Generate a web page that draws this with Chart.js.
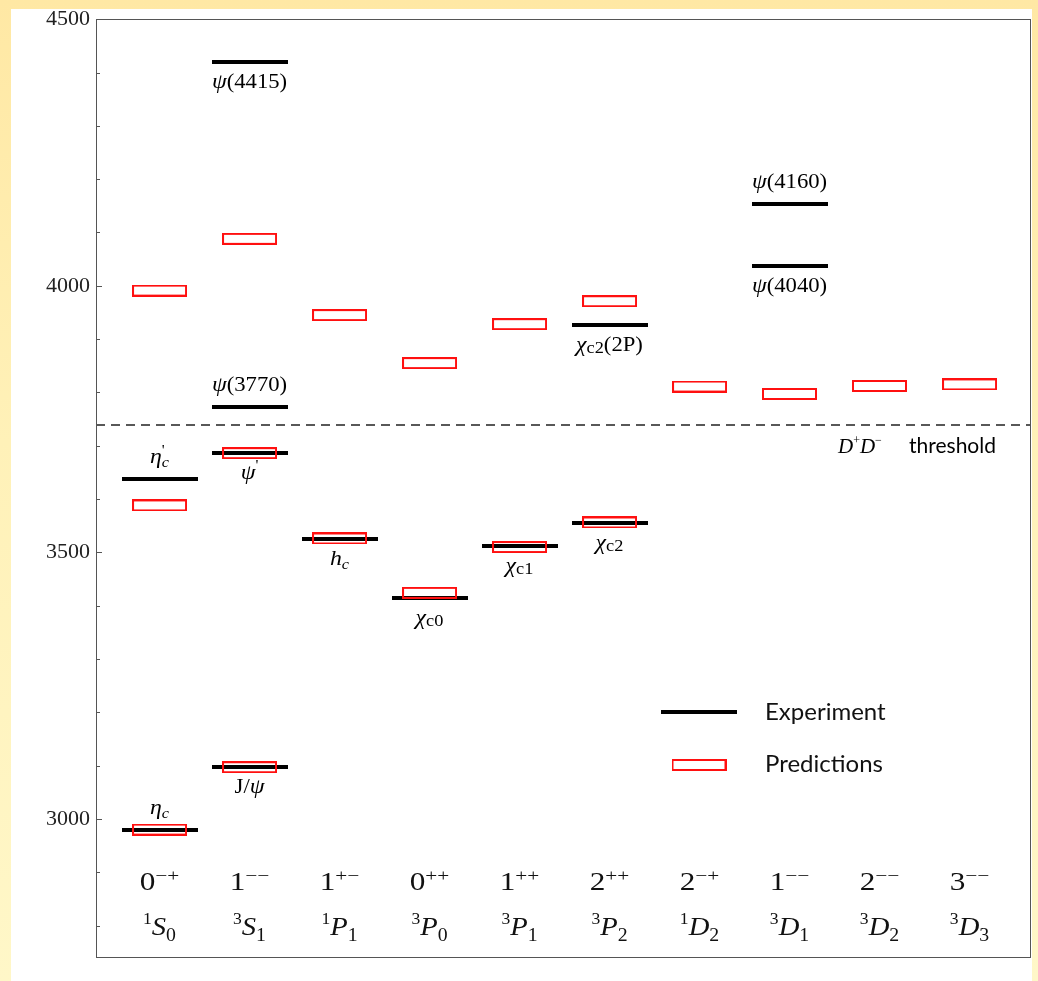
<!DOCTYPE html>
<html><head><meta charset="utf-8">
<script src="https://cdn.jsdelivr.net/npm/chart.js@4/dist/chart.umd.min.js"></script>
<style>
html,body{margin:0;padding:0;}
body{width:1038px;height:981px;background:linear-gradient(180deg,#FFE8A4 0%,#FFF1B8 45%,#FFF7C8 100%);position:relative;overflow:hidden;}
#panel{position:absolute;left:11px;top:9px;width:1021px;height:972px;background:#fff;}
#wrap{position:absolute;left:0;top:0;width:1038px;height:981px;}
</style></head><body>
<div id="panel"></div>
<div id="wrap"><canvas id="c" width="1038" height="981"></canvas></div>
<script>
// ---- data ----
const jpcLabels = [['0','−+'],['1','−−'],['1','+−'],['0','++'],['1','++'],['2','++'],['2','−+'],['1','−−'],['2','−−'],['3','−−']];
const termLabels = [['1','S','0'],['3','S','1'],['1','P','1'],['3','P','0'],['3','P','1'],['3','P','2'],['1','D','2'],['3','D','1'],['3','D','2'],['3','D','3']];
const expCategory = [0,0,1,1,1,1,2,3,4,5,5,7,7];
const expMass = [2980,3638,3097,3686,3773,4420,3525,3414,3511,3555,3926,4038,4154];
const expNames = ['eta_c',"eta_c'",'J/psi',"psi'",'psi(3770)','psi(4415)','h_c','chi_c0','chi_c1','chi_c2','chi_c2(2P)','psi(4040)','psi(4160)'];
const expLabelSide = [-1,-1,1,1,-1,1,1,1,1,1,1,1,-1];
const predCategory = [0,0,0,1,1,1,2,2,3,3,4,4,5,5,6,7,8,9];
const predMass = [2980,3588,3991,3097,3686,4088,3526,3945,3424,3855,3510,3928,3556,3971,3811,3797,3812,3815];
const thresholdMass = 3739;
const yTickValues = [3000,3500,4000,4500];
const yMinorStep = 100;
const legendLabels = ['Experiment','Predictions'];
const thresholdLabel = 'threshold';

// ---- styling helpers ----
const SERIF = '"Liberation Serif", "Times New Roman", serif';
const SANS = 'Lato, "Open Sans", sans-serif';
const X_MIN = -0.7056, X_MAX = 9.6833;

function makeBar(w,h,color){const c=document.createElement('canvas');c.width=w;c.height=h;const g=c.getContext('2d');g.fillStyle=color;g.fillRect(0,0,w,h);return c;}
function makeBox(w,h,color,lw){const c=document.createElement('canvas');c.width=w;c.height=h;const g=c.getContext('2d');g.strokeStyle=color;g.lineWidth=lw;g.strokeRect(lw/2,lw/2,w-lw,h-lw);return c;}
const barImg = makeBar(76,4,'#000');
const boxImg = makeBox(55,12,'#FF1010',2);

function it(sz){return 'italic '+sz+'px '+SERIF;}
function rm(sz){return sz+'px '+SERIF;}
const labelSegs = {
  'eta_c': [{t:'η',f:it(22)},{t:'c',f:it(15),dy:4}],
  "eta_c'": [{t:'η',f:it(22)},{t:"'",f:rm(15),dy:-8,adv:false},{t:'c',f:it(15),dy:4}],
  'J/psi': [{t:'J/',f:rm(21)},{t:'ψ',f:it(22)}],
  "psi'": [{t:'ψ',f:it(22)},{t:"'",f:rm(15),dy:-9}],
  'psi(3770)': [{t:'ψ',f:it(22)},{t:'(3770)',f:rm(21)}],
  'psi(4415)': [{t:'ψ',f:it(22)},{t:'(4415)',f:rm(21)}],
  'psi(4040)': [{t:'ψ',f:it(22)},{t:'(4040)',f:rm(21)}],
  'psi(4160)': [{t:'ψ',f:it(22)},{t:'(4160)',f:rm(21)}],
  'h_c': [{t:'h',f:it(22)},{t:'c',f:it(15),dy:4}],
  'chi_c0': [{t:'χ',f:it(22)},{t:'c0',f:rm(17),dy:2}],
  'chi_c1': [{t:'χ',f:it(22)},{t:'c1',f:rm(17),dy:2}],
  'chi_c2': [{t:'χ',f:it(22)},{t:'c2',f:rm(17),dy:2}],
  'chi_c2(2P)': [{t:'χ',f:it(22)},{t:'c2',f:rm(17),dy:2},{t:'(2P)',f:rm(21)}]
};

function drawRich(ctx, segs, x0, baseY, stretch, align){
  let w=0;
  for(const s of segs){ctx.font=s.f;s._w=ctx.measureText(s.t).width;if(s.adv!==false)w+=s._w;}
  ctx.save();ctx.translate(x0,baseY);ctx.scale(stretch,1);
  ctx.textBaseline='alphabetic';ctx.textAlign='left';
  let x = align==='left'?0:-w/2;
  for(const s of segs){ctx.font=s.f;ctx.fillText(s.t,x,s.dy||0);if(s.adv!==false)x+=s._w;}
  ctx.restore();
}

const decor = {
  id:'decor',
  afterDraw(chart){
    const ctx=chart.ctx, a=chart.chartArea, xs=chart.scales.x, ys=chart.scales.y;
    ctx.save();
    // frame
    ctx.strokeStyle='#555';ctx.lineWidth=1;
    ctx.strokeRect(Math.round(a.left)+0.5,Math.round(a.top)+0.5,Math.round(a.right-a.left)-1,Math.round(a.bottom-a.top));
    // inward ticks
    for(let v=Math.ceil(ys.min/yMinorStep)*yMinorStep; v<=ys.max; v+=yMinorStep){
      const y=Math.round(ys.getPixelForValue(v))+0.5;
      const len = yTickValues.includes(v)?6:4;
      ctx.beginPath();ctx.moveTo(a.left,y);ctx.lineTo(a.left+len,y);ctx.stroke();
    }
    // experiment labels
    ctx.fillStyle='#000';
    expNames.forEach((n,i)=>{
      const x=xs.getPixelForValue(expCategory[i]);
      const y=ys.getPixelForValue(expMass[i])+expLabelSide[i]*21+5;
      drawRich(ctx,labelSegs[n].map(s=>Object.assign({},s)),x,y,1.08,'center');
    });
    // category labels
    ctx.fillStyle='#111';
    jpcLabels.forEach((l,i)=>{
      const x=xs.getPixelForValue(i);
      drawRich(ctx,[{t:l[0],f:rm(25)},{t:l[1],f:rm(17),dy:-9}],x,890,1.25,'center');
    });
    termLabels.forEach((l,i)=>{
      const x=xs.getPixelForValue(i);
      drawRich(ctx,[{t:l[0],f:rm(16),dy:-11},{t:l[1],f:it(26)},{t:l[2],f:rm(18),dy:6}],x,935,1.1,'center');
    });
    // threshold label
    ctx.fillStyle='#000';
    drawRich(ctx,[{t:'D',f:it(21)},{t:'+',f:rm(12),dy:-9},{t:'D',f:it(21)},{t:'−',f:rm(12),dy:-9}],838,453,1,'left');
    ctx.font='21px '+SANS;ctx.textBaseline='alphabetic';ctx.textAlign='left';
    ctx.fillText(thresholdLabel,909,453);
    // legend
    ctx.drawImage(barImg,699-barImg.width/2,712-barImg.height/2);
    ctx.drawImage(boxImg,699-boxImg.width/2,765-boxImg.height/2);
    ctx.font='24px '+SANS;ctx.textBaseline='middle';ctx.fillStyle='#111';
    ctx.fillText(legendLabels[0],765,712);
    ctx.fillText(legendLabels[1],765,764);
    ctx.restore();
  }
};

new Chart(document.getElementById('c'),{
  type:'scatter',
  data:{datasets:[
    {label:'threshold',type:'line',data:[{x:X_MIN,y:thresholdMass},{x:X_MAX,y:thresholdMass}],borderColor:'#222',borderWidth:1.5,borderDash:[9,6],pointRadius:0,order:2},
    {label:legendLabels[0],data:expMass.map((m,i)=>({x:expCategory[i],y:m})),pointStyle:barImg,order:1},
    {label:legendLabels[1],data:predMass.map((m,i)=>({x:predCategory[i],y:m})),pointStyle:boxImg,order:0}
  ]},
  options:{
    responsive:false,animation:false,
    layout:{padding:{left:0,top:19,right:7,bottom:24}},
    plugins:{legend:{display:false},tooltip:{enabled:false}},
    scales:{
      x:{type:'linear',min:X_MIN,max:X_MAX,display:false},
      y:{type:'linear',min:2741,max:4500,
        afterBuildTicks:s=>{s.ticks=yTickValues.map(v=>({value:v}));},
        afterFit:s=>{s.width=96;},
        grid:{display:false,drawTicks:false},border:{display:false},
        ticks:{font:{family:'Liberation Serif',size:22},color:'#222',padding:6,callback:v=>String(v)}}
    }
  },
  plugins:[decor]
});
</script>
</body></html>
